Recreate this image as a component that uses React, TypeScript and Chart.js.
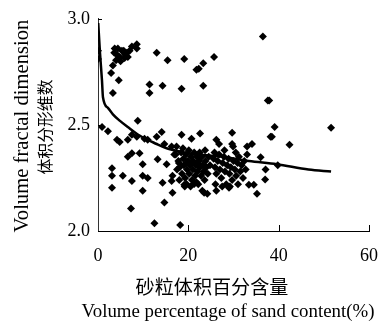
import { useEffect, useRef } from "react";
import { Chart, registerables } from "chart.js";
Chart.register(...registerables);

// x: sand content (%), y: volume fractal dimension
const upperPoints: [number, number][] = [
  [0, 2.85], [0, 2.81],
  [3.7, 2.86], [4.4, 2.86], [5.3, 2.85], [5.7, 2.85], [6.4, 2.84], [7.0, 2.85], [8.6, 2.88], [8.6, 2.86],
  [4.8, 2.82], [5.9, 2.815], [6.6, 2.82], [4.0, 2.805], [3.3, 2.78], [2.9, 2.745], [4.6, 2.71], [3.3, 2.65],
  [4.2, 2.83], [5.0, 2.80], [6.0, 2.83], [3.6, 2.84], [7.5, 2.87],
  [13.0, 2.84], [15.4, 2.805], [19.1, 2.81], [21.8, 2.76], [22.3, 2.765], [23.3, 2.79], [25.7, 2.82], [36.5, 2.917],
  [11.4, 2.69], [11.4, 2.65], [14.3, 2.685], [18.5, 2.67], [23.3, 2.685],
  [37.6, 2.615], [37.9, 2.615], [8.8, 2.52], [39.1, 2.49], [51.6, 2.486],
];
const middlePoints: [number, number][] = [
  [0.9, 2.49], [2.2, 2.47], [4.2, 2.43], [4.8, 2.42], [6.6, 2.43], [7.5, 2.454], [8.6, 2.444], [10.3, 2.435],
  [11.0, 2.43], [13.0, 2.444], [14.1, 2.467], [14.7, 2.41], [16.3, 2.398], [17.4, 2.398], [6.6, 2.35], [13.2, 2.338],
  [15.2, 2.315], [16.9, 2.36], [7.5, 2.366], [9.2, 2.366], [9.9, 2.315],
  [18.5, 2.454], [20.7, 2.435], [22.6, 2.46], [26.2, 2.43], [26.8, 2.41], [29.7, 2.463], [29.7, 2.41], [29.9, 2.398],
  [33.0, 2.398], [34.1, 2.41], [36.0, 2.347], [38.2, 2.444], [38.5, 2.444], [42.4, 2.407],
];
const lowerPoints: [number, number][] = [
  [3.1, 2.296], [3.1, 2.26], [3.1, 2.204], [5.5, 2.26], [7.5, 2.236], [9.9, 2.19], [9.9, 2.26], [11.0, 2.25],
  [14.3, 2.227], [14.7, 2.134], [7.3, 2.106], [12.5, 2.037], [18.2, 2.028],
  [16.3, 2.236], [16.5, 2.26], [16.5, 2.18], [19.1, 2.218], [19.6, 2.222], [21.3, 2.222], [23.5, 2.18], [23.1, 2.19],
  [24.2, 2.176], [26.2, 2.19], [29.0, 2.204],
  [33.4, 2.218], [34.5, 2.218], [35.2, 2.176], [37.1, 2.29], [37.0, 2.243], [39.8, 2.31],
];
const clusterA: [number, number][] = [
  [17.2, 2.36], [17.8, 2.33], [18.1, 2.30], [18.4, 2.37], [18.6, 2.27], [18.9, 2.34], [19.0, 2.31], [19.3, 2.25],
  [19.5, 2.36], [19.7, 2.29], [19.9, 2.33], [20.1, 2.38], [20.2, 2.27], [20.4, 2.31], [20.6, 2.35], [20.8, 2.24],
  [21.0, 2.29], [21.1, 2.33], [21.3, 2.37], [21.5, 2.26], [21.7, 2.31], [21.9, 2.35], [22.0, 2.28], [22.2, 2.22],
  [22.4, 2.33], [22.6, 2.30], [22.8, 2.26], [23.0, 2.35], [23.2, 2.31], [23.4, 2.28], [23.6, 2.24], [23.8, 2.33],
  [24.0, 2.30], [24.3, 2.27], [24.5, 2.35], [24.8, 2.31], [18.0, 2.24], [19.2, 2.21], [20.5, 2.21], [21.8, 2.23],
  [17.5, 2.29], [18.8, 2.39], [22.5, 2.37], [23.7, 2.38], [19.6, 2.32], [20.9, 2.32], [22.1, 2.32], [17.9, 2.32],
];
const clusterB: [number, number][] = [
  [25.6, 2.34], [25.9, 2.30], [26.2, 2.27], [26.5, 2.33], [26.8, 2.36], [27.0, 2.29], [27.3, 2.25], [27.6, 2.32],
  [27.9, 2.35], [28.1, 2.28], [28.4, 2.22], [28.6, 2.31], [28.9, 2.34], [29.1, 2.27], [29.4, 2.30], [29.7, 2.24],
  [30.0, 2.33], [30.3, 2.29], [30.6, 2.26], [30.9, 2.32], [31.2, 2.35], [31.5, 2.28], [31.8, 2.31], [32.1, 2.25],
  [32.4, 2.33], [32.7, 2.29], [33.0, 2.36], [26.0, 2.22], [27.5, 2.21], [29.2, 2.21], [31.0, 2.22], [25.8, 2.37],
  [28.0, 2.38], [30.5, 2.37],
];

// fitted curve
const fitX = [0.05, 0.44, 0.88, 1.1, 2.2, 3.3, 4.8, 6.6, 9.2, 13.0, 15.2, 18.0, 22.4, 27.5, 33.4, 39.6, 46.6, 51.6];
const fitY = [2.98, 2.84, 2.71, 2.63, 2.58, 2.55, 2.52, 2.49, 2.45, 2.41, 2.39, 2.375, 2.36, 2.35, 2.33, 2.315, 2.29, 2.28];

const xTicks = [0, 20, 40, 60];
const yTicks = [2.0, 2.5, 3.0];

const yTitleEn = "Volume fractal dimension";
const yTitleZh = "体积分形维数";
const xTitleZh = "砂粒体积百分含量";
const xTitleEn = "Volume percentage of sand content(%)";

const SERIF = "'Liberation Serif', 'Times New Roman', serif";
const CJK = "'Noto Sans CJK SC', sans-serif";

function drawFit(ctx: CanvasRenderingContext2D, text: string, cx: number, cy: number, width: number, family: string, rotate: boolean) {
  ctx.save();
  ctx.font = `20px ${family}`;
  const w = ctx.measureText(text).width;
  const size = (20 * width) / w;
  ctx.font = `${size.toFixed(2)}px ${family}`;
  ctx.fillStyle = "#000";
  ctx.textAlign = "center";
  ctx.textBaseline = "middle";
  ctx.translate(cx, cy);
  if (rotate) ctx.rotate(-Math.PI / 2);
  ctx.fillText(text, 0, 0);
  ctx.restore();
}

const titlePlugin = {
  id: "titles",
  afterDraw(chart: any) {
    const ctx = chart.ctx as CanvasRenderingContext2D;
    const xs = chart.scales.x;
    const ys = chart.scales.y;
    ctx.save();
    ctx.strokeStyle = "#000";
    ctx.lineWidth = 1;
    xTicks.forEach((t) => {
      if (t === 0) return;
      const px = Math.round(xs.getPixelForValue(t)) + 0.5;
      ctx.beginPath();
      ctx.moveTo(px, ys.bottom);
      ctx.lineTo(px, ys.bottom - 6);
      ctx.stroke();
    });
    yTicks.forEach((t) => {
      const py = Math.round(ys.getPixelForValue(t)) + 0.5;
      ctx.beginPath();
      ctx.moveTo(xs.left, py);
      ctx.lineTo(xs.left + 4, py);
      ctx.stroke();
    });
    ctx.restore();
    drawFit(ctx, yTitleEn, 23, 126, 213, SERIF, true);
    drawFit(ctx, yTitleZh, 45, 127, 95, CJK, true);
    drawFit(ctx, xTitleZh, 212, 287, 153, CJK, false);
    drawFit(ctx, xTitleEn, 228, 312, 293, SERIF, false);
  },
};

export default function App() {
  const ref = useRef<HTMLCanvasElement | null>(null);
  useEffect(() => {
    document.body.style.margin = "0";
    const canvas = ref.current;
    if (!canvas) return;
    const toXY = (arr: [number, number][]) => arr.map(([x, y]) => ({ x, y }));
    const allPts = [
      ...toXY(upperPoints),
      ...toXY(middlePoints),
      ...toXY(lowerPoints),
      ...toXY(clusterA),
      ...toXY(clusterB),
    ];
    const chart = new Chart(canvas, {
      type: "scatter",
      data: {
        datasets: [
          {
            type: "line",
            data: fitX.map((x, i) => ({ x, y: fitY[i] })),
            borderColor: "#000",
            borderWidth: 2.5,
            pointRadius: 0,
            fill: false,
            cubicInterpolationMode: "monotone",
          } as any,
          {
            data: allPts,
            pointStyle: "rectRot",
            pointRadius: 4,
            backgroundColor: "#000",
            borderColor: "#000",
            borderWidth: 0,
          },
        ],
      },
      options: {
        animation: false,
        responsive: false,
        events: [],
        layout: { padding: { left: 0, top: 15, right: 22, bottom: 0 } },
        plugins: { legend: { display: false }, tooltip: { enabled: false } },
        scales: {
          x: {
            type: "linear",
            min: 0,
            max: 60,
            afterFit: (s: any) => {
              s.height = 98;
            },
            afterBuildTicks: (s: any) => {
              s.ticks = xTicks.map((v) => ({ value: v }));
            },
            grid: { display: false, drawTicks: false },
            border: { display: true, color: "#000", width: 1 },
            ticks: {
              color: "#000",
              padding: 14,
              font: { family: SERIF, size: 18 },
              maxRotation: 0,
            },
          },
          y: {
            type: "linear",
            min: 2,
            max: 3,
            afterFit: (s: any) => {
              s.width = 98;
            },
            afterBuildTicks: (s: any) => {
              s.ticks = yTicks.map((v) => ({ value: v }));
            },
            grid: { display: false, drawTicks: false },
            border: { display: true, color: "#333", width: 1 },
            ticks: {
              color: "#000",
              padding: 8,
              font: { family: SERIF, size: 18 },
              callback: (v: any) => Number(v).toFixed(1),
            },
          },
        },
      },
      plugins: [titlePlugin],
    });
    return () => chart.destroy();
  }, []);
  return (
    <div style={{ width: 392, height: 329 }}>
      <canvas ref={ref} width={392} height={329} style={{ display: "block" }} />
    </div>
  );
}
